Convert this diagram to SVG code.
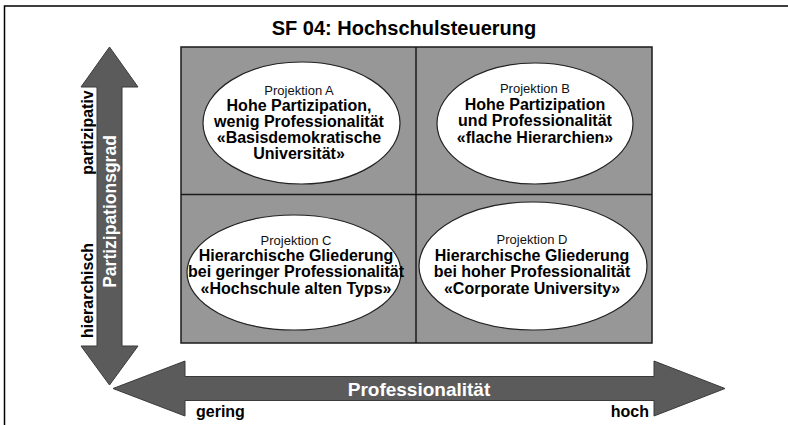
<svg xmlns="http://www.w3.org/2000/svg" width="788" height="425" viewBox="0 0 788 425">
<style>
text{font-family:"Liberation Sans",Arial,sans-serif;}
.b{font-weight:bold;font-size:16px;fill:#000;text-anchor:middle;}
.n{font-size:13px;fill:#111;text-anchor:middle;}
.ax{font-weight:bold;font-size:16px;fill:#000;}
.w{font-weight:bold;fill:#fff;text-anchor:middle;}
.cell{fill:#979797;stroke:#1a1a1a;stroke-width:1.5;}
.ell{fill:#fff;stroke:#222;stroke-width:1.2;}
.arrow{fill:#5b5b5b;stroke:#3a3a3a;stroke-width:1;}
</style>
<rect x="0" y="0" width="788" height="425" fill="#fff"/>
<path d="M4.5,430 V6 H790" fill="none" stroke="#000" stroke-width="1.5"/>
<text x="404" y="35" class="w" style="fill:#000;font-size:20px">SF 04: Hochschulsteuerung</text>
<g id="grid">
<rect class="cell" x="181" y="47" width="471" height="296"/>
<line x1="416" y1="47" x2="416" y2="343" stroke="#1a1a1a" stroke-width="1.5"/>
<line x1="181" y1="194.5" x2="652" y2="194.5" stroke="#1a1a1a" stroke-width="1.5"/>
</g>
<g id="connectors">
<polygon class="arrow" points="109.5,47 138,87 122,87 122,346 138,346 109.5,385 81,346 97,346 97,87 81,87"/>
<polygon class="arrow" points="113,388.5 185,361 185,376.5 654,376.5 654,361 725,388.5 654,416 654,400.5 185,400.5 185,416"/>
</g>
<g id="axis-y">
<text class="w" style="font-size:17.5px" transform="translate(115.5,211.5) rotate(-90)">Partizipationsgrad</text>
<text class="ax" text-anchor="middle" transform="translate(93,132.5) rotate(-90)">partizipativ</text>
<text class="ax" text-anchor="middle" transform="translate(93,290.5) rotate(-90)">hierarchisch</text>
</g>
<g id="axis-x">
<text class="w" style="font-size:19px" x="419" y="395.5">Professionalität</text>
<text class="ax" x="196" y="417">gering</text>
<text class="ax" x="649" y="417" text-anchor="end">hoch</text>
</g>
<g id="projektion-a">
<ellipse class="ell" cx="301.5" cy="123" rx="98.5" ry="61"/>
<text class="n" x="299" y="95">Projektion A</text>
<text class="b" x="299" y="111">Hohe Partizipation,</text>
<text class="b" x="299" y="127">wenig Professionalität</text>
<text class="b" x="299" y="143">«Basisdemokratische</text>
<text class="b" x="299" y="159">Universität»</text>
</g>
<g id="projektion-b">
<ellipse class="ell" cx="535" cy="123.5" rx="98" ry="60.5"/>
<text class="n" x="535" y="93">Projektion B</text>
<text class="b" x="535" y="110">Hohe Partizipation</text>
<text class="b" x="535" y="126">und Professionalität</text>
<text class="b" x="535" y="143">«flache Hierarchien»</text>
</g>
<g id="projektion-c">
<ellipse class="ell" cx="294" cy="272.5" rx="107" ry="57.5"/>
<text class="n" x="296" y="245">Projektion C</text>
<text class="b" x="296" y="261">Hierarchische Gliederung</text>
<text class="b" x="296" y="277">bei geringer Professionalität</text>
<text class="b" x="296" y="294">«Hochschule alten Typs»</text>
</g>
<g id="projektion-d">
<ellipse class="ell" cx="533" cy="266" rx="114" ry="64"/>
<text class="n" x="532" y="244">Projektion D</text>
<text class="b" x="532" y="261">Hierarchische Gliederung</text>
<text class="b" x="532" y="277">bei hoher Professionalität</text>
<text class="b" x="532" y="294">«Corporate University»</text>
</g>
</svg>
